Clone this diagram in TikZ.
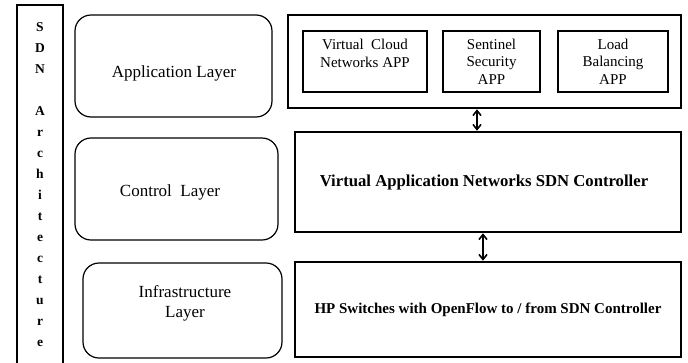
\documentclass[tikz,border=0pt]{standalone}
\usepackage{fontspec}
\setmainfont{Liberation Serif}
\usetikzlibrary{arrows.meta}
\begin{document}
\begin{tikzpicture}[x=1pt,y=-1pt,
  thickbox/.style={draw, line width=2.6pt, inner sep=0pt},
  thinbox/.style={draw, line width=1.2pt, inner sep=0pt},
  layerbox/.style={draw, line width=1.2pt, rounded corners=16pt, inner sep=0pt},
  layertext/.style={font=\fontsize{17}{20}\selectfont, align=center},
  apptext/.style={font=\fontsize{15}{17.5}\selectfont, align=center},
  boldtext/.style={font=\fontsize{15}{18}\selectfont\bfseries},
  link/.style={{Straight Barb[length=5pt,width=8pt]}-{Straight Barb[length=5pt,width=8pt]}, line width=1.6pt}]
\useasboundingbox (0,0) rectangle (688,362);

% side banner with the vertical title
\node[thickbox, minimum width=46pt, minimum height=370pt] (sdn) at (40,190) {};
\node[font=\fontsize{13.5}{21}\selectfont\bfseries, align=center, anchor=north] (title) at (40,19)
  {S\\D\\N\\[21pt]A\\r\\c\\h\\i\\t\\e\\c\\t\\u\\r\\e};

% layer labels
\node[layerbox, minimum width=197pt, minimum height=102pt] (applayer) at (173.5,66) {};
\node[layertext] (applabel) at (174,73) {Application Layer};
\node[layerbox, minimum width=203pt, minimum height=102pt] (ctrllayer) at (176.5,189) {};
\node[layertext] (ctrllabel) at (170,192) {Control~ Layer};
\node[layerbox, minimum width=199pt, minimum height=95pt] (infralayer) at (182.5,310.5) {};
\node[layertext] (infralabel) at (185,303) {Infrastructure\\Layer};

% application layer contents
\node[thickbox, minimum width=393pt, minimum height=93pt] (apps) at (484.5,61.5) {};
\node[thinbox, minimum width=124pt, minimum height=61pt] (vcn) at (365,61.5) {};
\node[apptext, anchor=north] (vcnlabel) at (365,36) {Virtual~ Cloud\\Networks APP};
\node[thinbox, minimum width=97pt, minimum height=61pt, apptext] (sentinel) at (491.5,61.5) {Sentinel\\Security\\APP};
\node[thinbox, minimum width=110pt, minimum height=61pt, apptext] (load) at (613,61.5) {Load\\Balancing\\APP};

% controller and switches
\node[thickbox, minimum width=386pt, minimum height=100pt, font=\fontsize{16.7}{18}\selectfont\bfseries] (ctrl) at (488,182) {};
\node[font=\fontsize{16.7}{18}\selectfont\bfseries] (ctrllabel2) at (484,182) {Virtual Application Networks SDN Controller};
\node[thickbox, minimum width=386pt, minimum height=95pt, boldtext] (hp) at (488,309.5) {HP Switches with OpenFlow to / from SDN Controller};

% links between the layers
\coordinate (l1) at (477,0);
\coordinate (l2) at (483,0);
\draw[link] (apps.south -| l1) -- (ctrl.north -| l1);
\draw[link] (ctrl.south -| l2) -- (hp.north -| l2);
\end{tikzpicture}
\end{document}
